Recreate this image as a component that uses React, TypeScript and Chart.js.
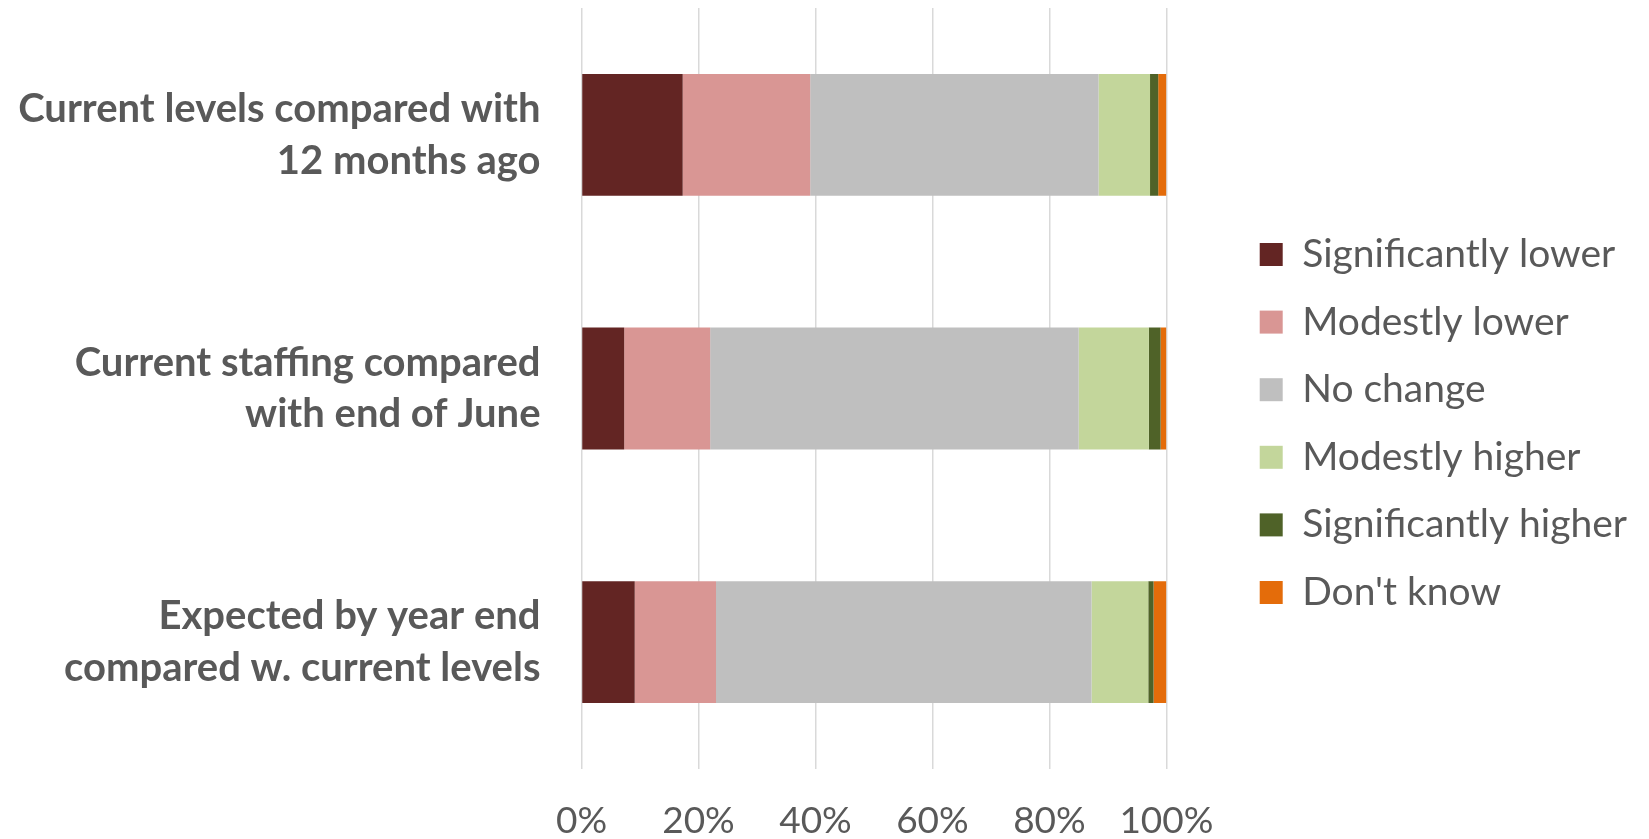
import React, { useEffect, useRef } from "react";
import { Chart, registerables } from "chart.js";

Chart.register(...registerables);

const categories: string[][] = [
  ["Current levels compared with", "12 months ago"],
  ["Current staffing compared", "with end of June"],
  ["Expected by year end", "compared w. current levels"],
];

const seriesNames = [
  "Significantly lower",
  "Modestly lower",
  "No change",
  "Modestly higher",
  "Significantly higher",
  "Don't know",
];

const significantlyLower = [17.3, 7.3, 9.1];
const modestlyLower = [21.8, 14.7, 13.9];
const noChange = [49.3, 63.0, 64.2];
const modestlyHigher = [8.8, 12.0, 9.7];
const significantlyHigher = [1.4, 2.0, 0.9];
const dontKnow = [1.4, 1.0, 2.2];

const seriesColors = ["#632523", "#D99694", "#BFBFBF", "#C3D69B", "#4F6228", "#E46C0A"];

const xTicks = [0, 20, 40, 60, 80, 100];

const TEXT = "#595959";
const FONT = "Lato";

export default function App() {
  const ref = useRef<HTMLCanvasElement | null>(null);

  useEffect(() => {
    if (!ref.current) return;
    const values = [
      significantlyLower,
      modestlyLower,
      noChange,
      modestlyHigher,
      significantlyHigher,
      dontKnow,
    ];
    const chart = new Chart(ref.current, {
      type: "bar",
      data: {
        labels: categories,
        datasets: values.map((v, i) => ({
          label: seriesNames[i],
          data: v,
          backgroundColor: seriesColors[i],
          borderWidth: 0,
          barPercentage: 0.48,
          categoryPercentage: 1,
        })),
      },
      options: {
        indexAxis: "y",
        animation: false,
        responsive: true,
        maintainAspectRatio: false,
        layout: { padding: { top: 0, right: 4, bottom: 0, left: 0 } },
        plugins: {
          tooltip: { enabled: false },
          legend: {
            position: "right",
            align: "center",
            maxWidth: 600,
            labels: {
              color: TEXT,
              font: { family: FONT, size: 39 },
              boxWidth: 23,
              boxHeight: 23,
              padding: 28.6,
            },
          },
        },
        scales: {
          x: {
            stacked: true,
            min: 0,
            max: 100,
            afterBuildTicks: (scale: any) => {
              scale.ticks = xTicks.map((v) => ({ value: v }));
            },
            afterFit: (scale: any) => {
              scale.height = 70;
              scale.paddingLeft = 0;
              scale.paddingRight = 0;
            },
            grid: { color: "#D9D9D9", lineWidth: 1.5, drawTicks: false, tickLength: 0 },
            border: { display: false },
            ticks: {
              color: TEXT,
              font: { family: FONT, size: 37 },
              padding: 30,
              maxRotation: 0,
              callback: (v: any) => v + "%",
            },
          },
          y: {
            stacked: true,
            afterFit: (scale: any) => {
              scale.width = 573.5;
              scale.paddingTop = 0;
              scale.paddingBottom = 0;
            },
            grid: { display: false, drawTicks: false, tickLength: 0 },
            border: { display: false },
            ticks: {
              color: TEXT,
              font: { family: FONT, size: 40, weight: "bold", lineHeight: 1.29 },
              padding: 41,
            },
          },
          yRight: {
            type: "category",
            position: "right",
            grid: { display: false, drawTicks: false },
            border: { display: false },
            ticks: { display: false },
            afterFit: (scale: any) => {
              scale.width = 64.7;
              scale.paddingTop = 0;
              scale.paddingBottom = 0;
            },
          },
        },
      },
    } as any);
    return () => chart.destroy();
  }, []);

  return (
    <div style={{ position: "fixed", left: 8, top: 8, width: 1633, height: 831 }}>
      <canvas ref={ref} />
    </div>
  );
}
